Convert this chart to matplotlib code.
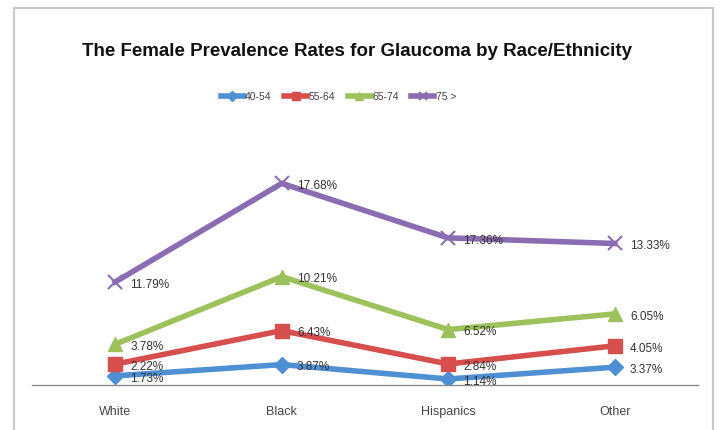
import numpy as np
import matplotlib.pyplot as plt
from matplotlib.patches import Rectangle

# data (stacked line chart, labels show the individual values)
groups = ['White', 'Black', 'Hispanics', 'Other']
ages = ['40-54', '55-64', '65-74', '75 >']
rate_40_54 = [1.73, 3.87, 1.14, 3.37]
rate_55_64 = [2.22, 6.43, 2.84, 4.05]
rate_65_74 = [3.78, 10.21, 6.52, 6.05]
rate_75 = [11.79, 17.68, 17.36, 13.33]

colors = ['#4f8fd3', '#d64f4c', '#9dc25c', '#8a6cb3']
markers = ['D', 's', '^', 'x']

def main():
    plt.rcParams['font.family'] = ['Liberation Sans', 'DejaVu Sans']
    fig = plt.figure(figsize=(7.2, 4.3), dpi=100)
    fig.patch.set_facecolor('white')

    # outer chart frame
    fig.patches.append(Rectangle((14/720, -0.05), 699/720, 1.05 - 8/430,
                                 transform=fig.transFigure, fill=False,
                                 edgecolor='#c8c8c8', lw=1.5))

    ax = fig.add_axes([32/720, 45/430, 666/720, 264/430])
    series = [rate_40_54, rate_55_64, rate_65_74, rate_75]
    stacked = np.cumsum(np.array(series), axis=0)
    x = np.arange(len(groups))

    sizes = [8.5, 10.5, 10.5, 9.5]
    for i in range(len(series)):
        ax.plot(x, stacked[i], color=colors[i], lw=4.0, marker=markers[i],
                markersize=sizes[i], mew=1.5 if markers[i] == 'x' else 1,
                mec=colors[i], label=ages[i], solid_joinstyle='miter')
        for j in range(len(groups)):
            ax.annotate('%.2f%%' % series[i][j], (x[j], stacked[i][j]),
                        xytext=(11, -2), textcoords='offset points',
                        ha='left', va='center', fontsize=8.5, color='#333333')

    ax.set_xlim(-0.5, 3.5)
    ax.set_ylim(0, 50)
    ax.set_xticks(x)
    ax.set_xticklabels(groups, fontsize=9, color='#444444')
    ax.tick_params(axis='x', length=0, pad=15)
    ax.set_yticks([])
    for s in ['top', 'left', 'right']:
        ax.spines[s].set_visible(False)
    ax.spines['bottom'].set_color('#8a8a8a')
    ax.spines['bottom'].set_linewidth(1.0)

    fig.text(0.496, 1 - 52/430, 'The Female Prevalence Rates for Glaucoma by Race/Ethnicity',
             ha='center', va='center', fontsize=13.5, fontweight='bold', color='#111111')

    leg = fig.legend(loc='center', bbox_to_anchor=(0.47, 1 - 97/430), ncol=4,
                     frameon=False, fontsize=7.5, handlelength=2.2, handletextpad=0.15,
                     columnspacing=1.2, markerscale=0.6)
    for t in leg.get_texts():
        t.set_color('#444444')

    fig.savefig('out.png', dpi=100)

if __name__ == '__main__':
    main()
